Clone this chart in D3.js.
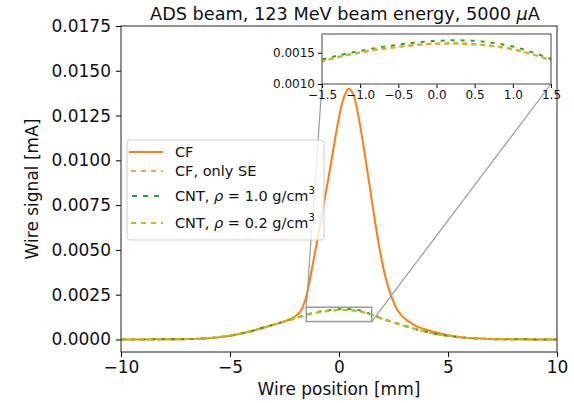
<!doctype html>
<html lang="en">
<head>
<meta charset="utf-8">
<title>ADS beam wire signal</title>
<style>
  body { margin: 0; background: #fff; }
  svg { display: block; font-family: "DejaVu Sans", sans-serif; }
</style>
</head>
<body>
<svg id="chart"></svg>
<script src="https://d3js.org/d3.v7.min.js"></script>
<script>
// ---- data ----
const xPos = [-10, -9, -8, -7, -6, -5.5, -5, -4.5, -4, -3.5, -3, -2.5, -2, -1.5, -1, -0.5,
              0, 0.5, 1, 1.5, 2, 2.5, 3, 3.5, 4, 4.5, 5, 5.5, 6, 7, 8, 9, 10];

const cfOnlySE = [0, 0.000003, 0.00001, 0.00002, 0.00007, 0.00013, 0.00021, 0.00033, 0.00047, 0.00065,
                  0.00082, 0.00100, 0.00118, 0.00136, 0.00150, 0.00159,
                  0.00164, 0.00163, 0.00155, 0.00138, 0.00114, 0.00095, 0.00076, 0.00058, 0.00043,
                  0.00029, 0.00020, 0.00012, 0.00007, 0.00002, 0.00001, 0.000003, 0];

const cnt10 = [0, 0.000003, 0.00001, 0.00002, 0.00007, 0.00013, 0.00021, 0.00033, 0.00047, 0.00065,
               0.00083, 0.00101, 0.00119, 0.00139, 0.00153, 0.00163,
               0.00169, 0.00169, 0.00160, 0.00140, 0.00116, 0.00096, 0.00077, 0.00058, 0.00043,
               0.00029, 0.00020, 0.00012, 0.00007, 0.00002, 0.00001, 0.000003, 0];

const cnt02 = [0, 0.000003, 0.00001, 0.00002, 0.00007, 0.00013, 0.00021, 0.00033, 0.00047, 0.00065,
               0.00082, 0.00100, 0.00118, 0.00137, 0.00151, 0.00160,
               0.00165, 0.00164, 0.00156, 0.00138, 0.00115, 0.00095, 0.00076, 0.00058, 0.00043,
               0.00029, 0.00020, 0.00012, 0.00007, 0.00002, 0.00001, 0.000003, 0];

const cfPos = [-10, -9, -8, -7, -6, -5, -4, -3.5, -3, -2.5, -2.25, -2, -1.75, -1.5, -1.25, -1,
               -0.75, -0.5, -0.25, 0, 0.25, 0.45, 0.65, 0.9, 1.15, 1.4, 1.65, 1.9, 2.15, 2.4,
               2.7, 3, 3.5, 4, 4.5, 5, 5.5, 6, 7, 8, 9, 10];
const cf = [0, 0.000003, 0.00001, 0.00002, 0.00007, 0.00021, 0.00047, 0.00065, 0.00082, 0.00101,
            0.00113, 0.00130, 0.00160, 0.0024, 0.0039, 0.0055,
            0.0072, 0.0089, 0.0107, 0.0124, 0.0136, 0.0140, 0.0137, 0.0124, 0.0106, 0.0086,
            0.0066, 0.0048, 0.0034, 0.0024, 0.00160, 0.00118, 0.00077, 0.00054, 0.00037,
            0.00024, 0.00015, 0.00008, 0.00002, 0.00001, 0.000003, 0];

const yTicks = [0, 0.0025, 0.005, 0.0075, 0.01, 0.0125, 0.015, 0.0175];
const xTicks = [-10, -5, 0, 5, 10];
const insetXTicks = [-1.5, -1, -0.5, 0, 0.5, 1, 1.5];
const insetYTicks = [0.001, 0.0015];

const width = 574, height = 403;
const svg = d3.select("#chart").attr("width", width).attr("height", height);

let x = d3.scaleLinear().domain([-10, 10]).range([121, 557]);
let y = d3.scaleLinear().domain([-0.0007, 0.0175]).range([352, 26]);

const series = [
  { xs: cfPos, ys: cf, color: "#ff7f0e", dash: null, opacity: 1 },
  { xs: xPos, ys: cfOnlySE, color: "#ff7f0e", dash: "5,4", opacity: 0.75 },
  { xs: xPos, ys: cnt10, color: "#2ca02c", dash: "4,6", opacity: 1 },
  { xs: xPos, ys: cnt02, color: "#bcbd22", dash: "5,4", opacity: 1 }
];

function drawLines(g, sx, sy, list) {
  const line = d3.line().curve(d3.curveCatmullRom.alpha(0.5)).x(d => sx(d[0])).y(d => sy(d[1]));
  list.forEach(s => {
    g.append("path")
      .attr("d", line(s.xs.map((v, i) => [v, s.ys[i]])))
      .attr("fill", "none")
      .attr("stroke", s.color)
      .attr("stroke-width", 2)
      .attr("stroke-opacity", s.opacity)
      .attr("stroke-dasharray", s.dash);
  });
}

svg.append("clipPath").attr("id", "mainClip").append("rect")
  .attr("x", 121).attr("y", 26).attr("width", 436).attr("height", 326);

drawLines(svg.append("g").attr("clip-path", "url(#mainClip)"), x, y, series);

// zoom box + connectors
let ix = d3.scaleLinear().domain([-1.5, 1.5]).range([322, 551]);
let iy = d3.scaleLinear().domain([0.001, 0.0018]).range([84, 34]);

svg.append("rect")
  .attr("x", x(-1.5)).attr("y", y(0.0018))
  .attr("width", x(1.5) - x(-1.5)).attr("height", y(0.001) - y(0.0018))
  .attr("fill", "none").attr("stroke", "#999").attr("stroke-width", 1.5);
svg.append("line")
  .attr("x1", x(-1.5)).attr("y1", y(0.0018)).attr("x2", ix(-1.5)).attr("y2", iy(0.001))
  .attr("stroke", "#999").attr("stroke-width", 1.2);
svg.append("line")
  .attr("x1", x(1.5)).attr("y1", y(0.001)).attr("x2", ix(1.5)).attr("y2", iy(0.001))
  .attr("stroke", "#999").attr("stroke-width", 1.2);

// main axes
svg.append("g").attr("transform", "translate(0,352)")
  .call(d3.axisBottom(x).tickValues(xTicks).tickSize(5).tickPadding(4)
    .tickFormat(d => d < 0 ? "\u2212" + Math.abs(d) : d))
  .call(g => g.select(".domain").remove())
  .selectAll("text").attr("font-size", 17).attr("fill", "#111").attr("font-family", "DejaVu Sans");

svg.append("g").attr("transform", "translate(121,0)")
  .call(d3.axisLeft(y).tickValues(yTicks).tickSize(5).tickPadding(5).tickFormat(d3.format(".4f")))
  .call(g => g.select(".domain").remove())
  .selectAll("text").attr("font-size", 17).attr("fill", "#111").attr("font-family", "DejaVu Sans");

svg.append("rect").attr("x", 121).attr("y", 26).attr("width", 436).attr("height", 326)
  .attr("fill", "none").attr("stroke", "#222").attr("stroke-width", 1);

// titles
let title = svg.append("text").attr("x", 345).attr("y", 20).attr("text-anchor", "middle")
  .attr("font-size", 17.7).attr("fill", "#111");
title.append("tspan").text("ADS beam, 123 MeV beam energy, 5000 ");
title.append("tspan").attr("font-style", "italic").text("\u03bc");
title.append("tspan").text("A");

svg.append("text").attr("x", 339).attr("y", 395).attr("text-anchor", "middle")
  .attr("font-size", 17).attr("fill", "#111").text("Wire position [mm]");

svg.append("text").attr("transform", "translate(38,189) rotate(-90)").attr("text-anchor", "middle")
  .attr("font-size", 17).attr("fill", "#111").text("Wire signal [mA]");

// legend
let lg = svg.append("g");
lg.append("rect").attr("x", 127).attr("y", 140).attr("width", 197).attr("height", 100)
  .attr("rx", 3).attr("fill", "#fff").attr("fill-opacity", 0.8)
  .attr("stroke", "#ccc").attr("stroke-width", 1);

const rowY = [152, 171, 196, 223];
const labels = [
  ["CF"],
  ["CF, only SE"],
  ["CNT, ", "\u03c1", " = 1.0 g/cm", "3"],
  ["CNT, ", "\u03c1", " = 0.2 g/cm", "3"]
];
const legendDash = [null, "5,5", "5,6", "5,5"];
series.forEach((s, i) => {
  lg.append("line").attr("x1", 129).attr("x2", 163).attr("y1", rowY[i]).attr("y2", rowY[i])
    .attr("stroke", s.color).attr("stroke-width", 2).attr("stroke-opacity", s.opacity)
    .attr("stroke-dasharray", legendDash[i])
    .attr("stroke-dashoffset", i === 2 ? -3 : -2);
  let t = lg.append("text").attr("x", 175).attr("y", rowY[i] + 5)
    .attr("font-size", 14.5).attr("fill", "#111");
  labels[i].forEach((part, j) => {
    let sp = t.append("tspan").text(part);
    if (j === 1) sp.attr("font-style", "italic");
    if (j === 3) sp.attr("font-size", 10).attr("dy", -7);
  });
});

// inset
let ins = svg.append("g");
ins.append("rect").attr("x", 322).attr("y", 34).attr("width", 229).attr("height", 50).attr("fill", "#fff");
svg.append("clipPath").attr("id", "insClip").append("rect")
  .attr("x", 322).attr("y", 34).attr("width", 229).attr("height", 50);
drawLines(ins.append("g").attr("clip-path", "url(#insClip)"), ix, iy, series);

ins.append("g").attr("transform", "translate(0,84)")
  .call(d3.axisBottom(ix).tickValues(insetXTicks).tickSize(4).tickPadding(2)
    .tickFormat(d => (d < 0 ? "\u2212" : "") + Math.abs(d).toFixed(1)))
  .call(g => g.select(".domain").remove())
  .selectAll("text").attr("font-size", 12).attr("fill", "#111").attr("font-family", "DejaVu Sans");
ins.append("g").attr("transform", "translate(322,0)")
  .call(d3.axisLeft(iy).tickValues(insetYTicks).tickSize(4).tickPadding(3).tickFormat(d3.format(".4f")))
  .call(g => g.select(".domain").remove())
  .selectAll("text").attr("font-size", 12).attr("fill", "#111").attr("font-family", "DejaVu Sans");
ins.append("rect").attr("x", 322).attr("y", 34).attr("width", 229).attr("height", 50)
  .attr("fill", "none").attr("stroke", "#444").attr("stroke-width", 1);
</script>
</body>
</html>
